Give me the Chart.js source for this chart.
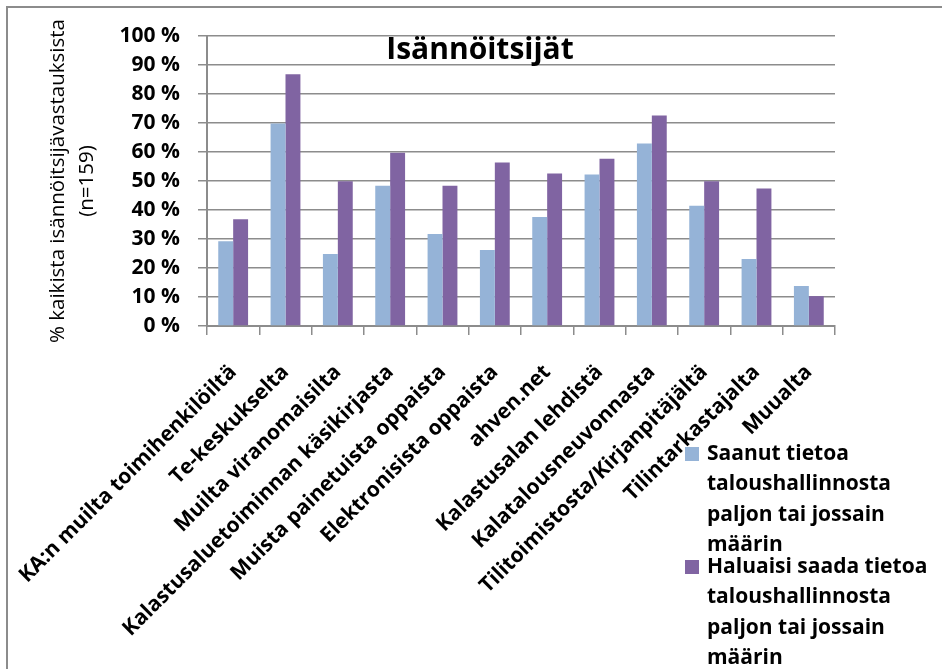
<!DOCTYPE html>
<html>
<head>
<meta charset="utf-8">
<script src="https://cdn.jsdelivr.net/npm/chart.js@4.4.1/dist/chart.umd.min.js"></script>
<style>
    body { margin: 0; background: #fff; }
    #wrap { width: 942px; height: 669px; }
</style>
</head>
<body>
<div id="wrap"><canvas id="myChart" width="942" height="669"></canvas></div>
<script>
// Luokat ja arvot (% vastaajista)
const categories = [
    'KA:n muilta toimihenkilöiltä',
    'Te-keskukselta',
    'Muilta viranomaisilta',
    'Kalastusaluetoiminnan käsikirjasta',
    'Muista painetuista oppaista',
    'Elektronisista oppaista',
    'ahven.net',
    'Kalastusalan lehdistä',
    'Kalatalousneuvonnasta',
    'Tilitoimistosta/Kirjanpitäjältä',
    'Tilintarkastajalta',
    'Muualta'
];
const saanut = [29.2, 69.8, 24.8, 48.4, 31.7, 26.2, 37.6, 52.2, 62.9, 41.5, 23.1, 13.8];
const haluaisi = [36.8, 86.8, 49.9, 59.7, 48.4, 56.4, 52.6, 57.7, 72.6, 49.9, 47.4, 10.3];
const seriesNames = [
    ['Saanut tietoa', 'taloushallinnosta', 'paljon tai jossain', 'määrin'],
    ['Haluaisi saada tietoa', 'taloushallinnosta', 'paljon tai jossain', 'määrin']
];
const yTitle = ['% kaikista isännöitsijävastauksista', '(n=159)'];
const chartTitle = 'Isännöitsijät';

const gridGray = '#8c8c8c';
const fontFamily = '"Open Sans", "DejaVu Sans", sans-serif';

// Kehys, otsikko ja selite piirretään itse
const extras = {
    id: 'extras',
    beforeDraw(chart) {
        const c = chart.ctx;
        c.save();
        c.fillStyle = '#fff';
        c.fillRect(0, 0, chart.width, chart.height);
        c.strokeStyle = gridGray;
        c.lineWidth = 2;
        c.beginPath();
        c.moveTo(7, chart.height);
        c.lineTo(7, 7);
        c.lineTo(chart.width, 7);
        c.stroke();
        c.restore();
    },
    afterDraw(chart) {
        const c = chart.ctx;
        c.save();
        c.fillStyle = '#000';
        c.font = 'bold 30px ' + fontFamily;
        c.textAlign = 'center';
        c.textBaseline = 'middle';
        c.fillText(chartTitle, 480, 50);

        // selite
        c.font = 'bold 21px ' + fontFamily;
        c.textAlign = 'left';
        const starts = [454, 567];
        chart.data.datasets.forEach((ds, i) => {
            c.fillStyle = ds.backgroundColor;
            c.fillRect(685, starts[i] - 7, 14, 14);
            c.fillStyle = '#000';
            seriesNames[i].forEach((line, j) => {
                c.fillText(line, 707, starts[i] + j * 30.5);
            });
        });
        c.restore();
    }
};

const ctx = document.getElementById('myChart').getContext('2d');
const myChart = new Chart(ctx, {
    type: 'bar',
    data: {
        labels: categories,
        datasets: [{
            label: seriesNames[0].join(' '),
            data: saanut,
            backgroundColor: '#95b3d7',
            borderWidth: 0
        }, {
            label: seriesNames[1].join(' '),
            data: haluaisi,
            backgroundColor: '#8064a2',
            borderWidth: 0
        }]
    },
    options: {
        responsive: false,
        animation: false,
        layout: {
            padding: { top: 36, right: 107, left: 0, bottom: 0 }
        },
        datasets: {
            bar: { categoryPercentage: 0.57, barPercentage: 1 }
        },
        plugins: {
            legend: { display: false },
            title: { display: false },
            tooltip: { enabled: false }
        },
        scales: {
            x: {
                grid: {
                    drawOnChartArea: false,
                    drawTicks: true,
                    tickLength: 9,
                    color: gridGray,
                    lineWidth: 1.5
                },
                border: { color: gridGray, width: 2 },
                ticks: {
                    autoSkip: false,
                    minRotation: 45,
                    maxRotation: 45,
                    padding: 25,
                    color: '#000',
                    font: { family: fontFamily, size: 21, weight: 'bold' }
                },
                afterFit(axis) {
                    axis.height = 343;
                    axis.paddingLeft = 0;
                    axis.paddingRight = 0;
                }
            },
            y: {
                min: 0,
                max: 100,
                ticks: {
                    stepSize: 10,
                    autoSkip: false,
                    padding: 18,
                    color: '#000',
                    font: { family: fontFamily, size: 21, weight: 'bold' },
                    callback: (v) => v + ' %'
                },
                grid: {
                    color: gridGray,
                    lineWidth: 1.5,
                    tickLength: 9
                },
                border: { color: gridGray, width: 2 },
                title: {
                    display: true,
                    text: yTitle,
                    color: '#000',
                    font: { family: fontFamily, size: 20.5, lineHeight: 1.4 },
                    padding: { top: 44, bottom: 0 }
                },
                afterFit(axis) { axis.width = 207; }
            }
        }
    },
    plugins: [extras]
});
</script>
</body>
</html>
